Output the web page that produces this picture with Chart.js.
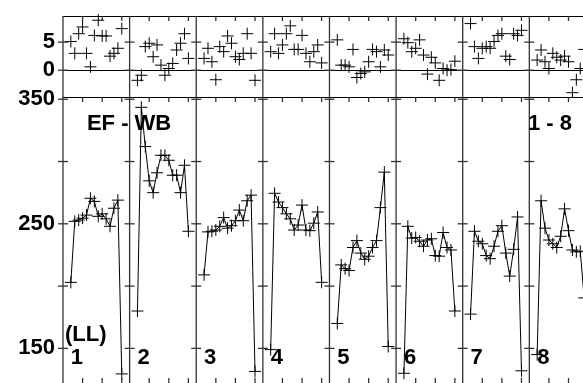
<!DOCTYPE html>
<html>
<head>
<meta charset="utf-8">
<script src="https://cdn.jsdelivr.net/npm/chart.js@4.4.1/dist/chart.umd.min.js"></script>
<style>
html, body { margin: 0; padding: 0; background: #fff; overflow: hidden; }
#wrap { position: relative; width: 583px; height: 383px; }
canvas { position: absolute; left: 0; }
#resid { top: 0; }
#level { top: 80px; }
</style>
</head>
<body>
<div id="wrap">
<canvas id="resid" width="583" height="98"></canvas>
<canvas id="level" width="583" height="303"></canvas>
</div>
<script>
// segment numbers along the run
const segmentNames = ['1', '2', '3', '4', '5', '6', '7', '8'];

// lower panel, one array per segment
const level1 = [203, 252, 253, 254.5, 257, 270.5, 268, 256, 258, 254, 248, 262.5, 269, 129.5];
const level2 = [180, 343.5, 312, 284.5, 275, 291, 305, 305, 301, 289, 289, 275, 297, 244];
const level3 = [209, 243.5, 244, 245, 248, 255, 246.5, 248.5, 252.5, 261, 252.5, 268.5, 273, 131.5];
const level4 = [149, 274.5, 267.5, 263, 258, 254, 245, 249, 265, 245, 244.5, 250.5, 259.5, 203];
const level5 = [170, 217, 214, 212.5, 231, 236.5, 226.5, 221.5, 224, 231, 236.5, 263, 291.5, 151.5];
const level6 = [130, 248, 238.5, 239, 236, 232, 237, 238, 224.5, 224, 243, 231, 229, 180];
const level7 = [177.5, 244, 236, 234, 224.5, 222, 232, 244, 248.5, 226.5, 208, 229.5, 255.5, 132];
const level8 = [145, 268.5, 246.5, 237, 234, 231, 240, 262, 244.5, 229, 227.5, 228, 190.5];

// upper panel (residuals), one array per segment
const resid1 = [5.1, 3.0, 6.5, 7.7, 3.0, 0.6, 6.2, 8.9, 6.1, 6.1, 2.5, 3.0, 3.9, 7.4];
const resid2 = [-1.8, -0.9, 4.2, 4.8, 2.4, 4.5, 0.9, -0.9, 0.3, 1.2, 3.6, 4.8, 6.5, 2.1];
const resid3 = [2.1, 3.9, 1.5, -1.7, 4.2, 3.3, 6.1, 4.8, 2.4, 1.9, 3.0, 6.5, 3.0, -1.8];
const resid4 = [3.3, 6.5, 3.0, 4.5, 6.5, 7.9, 3.7, 3.7, 6.2, 3.0, 1.5, 3.3, 4.5, 1.3];
const resid5 = [5.4, 0.9, 0.9, 0.6, 3.7, -1.3, -0.6, -0.3, 1.5, 3.7, 3.3, 0.6, 3.6, 2.7];
const resid6 = [5.6, 4.9, 3.3, 3.9, 5.4, 2.7, -0.7, 2.3, 1.3, -1.8, 0.3, 0.0, 0.1, 1.6];
const resid7 = [8.3, 4.2, 2.1, 3.9, 4.2, 3.9, 5.1, 6.2, 6.5, 2.5, 1.9, 6.5, 6.2, 7.1];
const resid8 = [1.8, 3.6, 1.5, 0.3, 3.0, 2.3, 1.8, 2.5, 1.5, -4.0, -1.7, 0.3, 3.7];

const levelLabels = [150, 250, 350];
const residLabels = [0, 5];
const panelTitle = 'EF - WB';
const rangeTitle = '1 - 8';
const unitTitle = '(LL)';

const levels = [level1, level2, level3, level4, level5, level6, level7, level8];
const resids = [resid1, resid2, resid3, resid4, resid5, resid6, resid7, resid8];

const segSpan = 17;      // x units per segment
const firstOffset = 2;   // first point inside a segment
const FONT = 'bold 22px "Liberation Sans", Arial, sans-serif';

Chart.defaults.font.family = '"Liberation Sans", Arial, sans-serif';

function strokeLine(ctx, x1, y1, x2, y2) {
    ctx.beginPath();
    ctx.moveTo(x1, y1);
    ctx.lineTo(x2, y2);
    ctx.stroke();
}

const framePlugin = {
    id: 'frame',
    afterDatasetsDraw(chart, args, opts) {
        const { ctx, chartArea: a, scales: { x, y } } = chart;
        ctx.save();
        ctx.strokeStyle = '#000';
        ctx.lineWidth = 1;
        strokeLine(ctx, a.left, a.top + 0.5, a.right, a.top + 0.5);
        if (opts.zeroLine) {
            const py = Math.round(y.getPixelForValue(0)) + 0.5;
            strokeLine(ctx, a.left, py, a.right, py);
        }
        ctx.strokeStyle = '#333';
        ctx.lineWidth = 1.3;
        segmentNames.forEach((name, i) => {
            const px = x.getPixelForValue(i * segSpan);
            strokeLine(ctx, px, a.top, px, a.bottom);
            y.ticks.forEach(t => {
                const py = y.getPixelForValue(t.value);
                strokeLine(ctx, px - 5, py, px + 5, py);
            });
            [5, 10, 15].forEach(o => {
                const tx = x.getPixelForValue(i * segSpan + o);
                if (tx > a.right) return;
                strokeLine(ctx, tx, a.top, tx, a.top + 5);
                if (opts.bottomTicks) strokeLine(ctx, tx, a.bottom, tx, a.bottom - 5);
            });
        });
        ctx.fillStyle = '#000';
        ctx.font = FONT;
        ctx.textBaseline = 'alphabetic';
        (opts.texts || []).forEach(t => {
            ctx.textAlign = t.align;
            ctx.fillText(t.text, x.getPixelForValue(t.x), y.getPixelForValue(t.y));
        });
        ctx.restore();
    }
};

function segmentDatasets(series, withLine) {
    return series.map((vals, i) => ({
        data: vals.map((v, j) => ({ x: i * segSpan + firstOffset + j, y: v })),
        showLine: withLine,
        borderColor: '#000',
        borderWidth: 1,
        backgroundColor: '#000',
        pointStyle: 'cross',
        pointRadius: 6,
        pointBorderWidth: 1,
        pointBorderColor: '#000',
        tension: 0,
        clip: false
    }));
}

function makeOptions(yMin, yMax, step, labels, top, plugin) {
    return {
        responsive: false,
        animation: false,
        layout: { autoPadding: false, padding: { top: top, left: 0, right: 0, bottom: 0 } },
        plugins: { legend: { display: false }, tooltip: { enabled: false }, frame: plugin },
        scales: {
            x: { type: 'linear', display: false, min: 0, max: 132.7 },
            y: {
                min: yMin,
                max: yMax,
                grid: { display: false, drawTicks: false },
                border: { display: false },
                afterFit: s => {
                    s.width = 63;
                    s.paddingTop = 0;
                    s.paddingBottom = 0;
                },
                ticks: {
                    stepSize: step,
                    includeBounds: false,
                    padding: 8,
                    color: '#000',
                    font: { size: 22, weight: 'bold' },
                    callback: v => labels.includes(v) ? String(v) : ''
                }
            }
        }
    };
}

new Chart(document.getElementById('resid'), {
    type: 'scatter',
    data: { datasets: segmentDatasets(resids, false) },
    options: makeOptions(-4.95, 9.65, 5, residLabels, 16, { zeroLine: true, bottomTicks: false }),
    plugins: [framePlugin]
});

const segTexts = segmentNames.map((n, i) => ({ text: n, x: i * segSpan + 2, y: 137.5, align: 'left' }));

new Chart(document.getElementById('level'), {
    type: 'scatter',
    data: { datasets: segmentDatasets(levels, true) },
    options: makeOptions(122.2, 351.8, 50, levelLabels, 17, {
        zeroLine: false,
        bottomTicks: true,
        texts: [
            { text: panelTitle, x: 6.1, y: 325.4, align: 'left' },
            { text: rangeTitle, x: 129.9, y: 325.4, align: 'right' },
            { text: unitTitle, x: 0.5, y: 155.6, align: 'left' }
        ].concat(segTexts)
    }),
    plugins: [framePlugin]
});
</script>
</body>
</html>
